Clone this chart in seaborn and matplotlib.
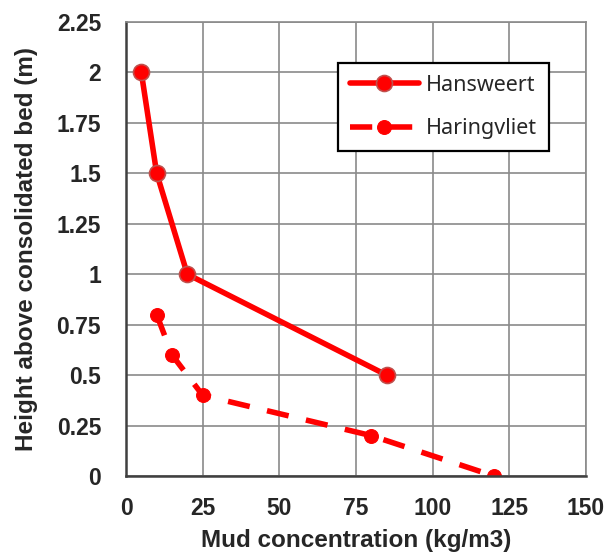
import matplotlib
matplotlib.use("Agg")
import matplotlib.pyplot as plt
import seaborn as sns
import pandas as pd

# Mud concentration profiles above the consolidated bed
hansweert_conc = [5, 10, 20, 85]
hansweert_height = [2.0, 1.5, 1.0, 0.5]
haringvliet_conc = [10, 15, 25, 80, 120]
haringvliet_height = [0.8, 0.6, 0.4, 0.2, 0.0]

x_ticks = [0, 25, 50, 75, 100, 125, 150]
y_ticks = [0, 0.25, 0.5, 0.75, 1, 1.25, 1.5, 1.75, 2, 2.25]
y_tick_labels = ["0", "0.25", "0.5", "0.75", "1", "1.25", "1.5", "1.75", "2", "2.25"]

sns.set_style("white")
plt.rcParams["font.family"] = ["Liberation Sans", "DejaVu Sans"]

df_h = pd.DataFrame({"conc": hansweert_conc, "height": hansweert_height})
df_v = pd.DataFrame({"conc": haringvliet_conc, "height": haringvliet_height})

fig = plt.figure(figsize=(6.16, 5.56), dpi=100)
ax = fig.add_axes([126 / 616, 80 / 556, 460 / 616, 454 / 556])

red = "#ff0000"
sns.lineplot(data=df_h, x="conc", y="height", sort=False, estimator=None, ax=ax,
             color=red, lw=4.0, marker="o", markersize=11.5,
             markerfacecolor=red, markeredgecolor="#c0504d", markeredgewidth=1.2,
             label="Hansweert")
sns.lineplot(data=df_v, x="conc", y="height", sort=False, estimator=None, ax=ax,
             color=red, lw=4.0, marker="o", markersize=10,
             markerfacecolor=red, markeredgecolor=red,
             label="Haringvliet")
ax.lines[-1].set_dashes([4.0, 3.2])

ax.set_xlim(0, 150)
ax.set_ylim(0, 2.25)
ax.set_xticks(x_ticks)
ax.set_yticks(y_ticks)
ax.set_yticklabels(y_tick_labels)
ax.grid(True, color="#8a8a8a", lw=1.2)
ax.set_axisbelow(True)

for side in ["top", "right"]:
    ax.spines[side].set_color("#8a8a8a")
    ax.spines[side].set_linewidth(1.2)
for side in ["left", "bottom"]:
    ax.spines[side].set_color("#404040")
    ax.spines[side].set_linewidth(1.8)

ax.tick_params(axis="both", which="major", direction="out", length=6, width=1,
               color="#808080", labelsize=16.5)
ax.tick_params(axis="y", pad=12)
ax.tick_params(axis="x", pad=9)
for lbl in ax.get_xticklabels() + ax.get_yticklabels():
    lbl.set_fontweight("bold")

ax.set_xlabel("Mud concentration (kg/m3)", fontsize=17.5, fontweight="bold")
ax.set_ylabel("Height above consolidated bed (m)", fontsize=17.5, fontweight="bold")
ax.xaxis.label.set_va("center")
ax.yaxis.label.set_va("center")
ax.xaxis.set_label_coords(0.5, -0.143)
ax.yaxis.set_label_coords(-0.216, 0.5)

leg = ax.legend(loc="upper left", bbox_to_anchor=((338 - 126) / 460, (476 - 63) / 454),
                borderaxespad=0, frameon=True,
                fancybox=False, edgecolor="black", framealpha=1,
                prop={"family": "Noto Sans", "size": 15.5}, handlelength=3.2,
                borderpad=0.55, labelspacing=1.05, handletextpad=0.35)
leg.get_frame().set_linewidth(1.6)

fig.savefig("out.png", dpi=100)
